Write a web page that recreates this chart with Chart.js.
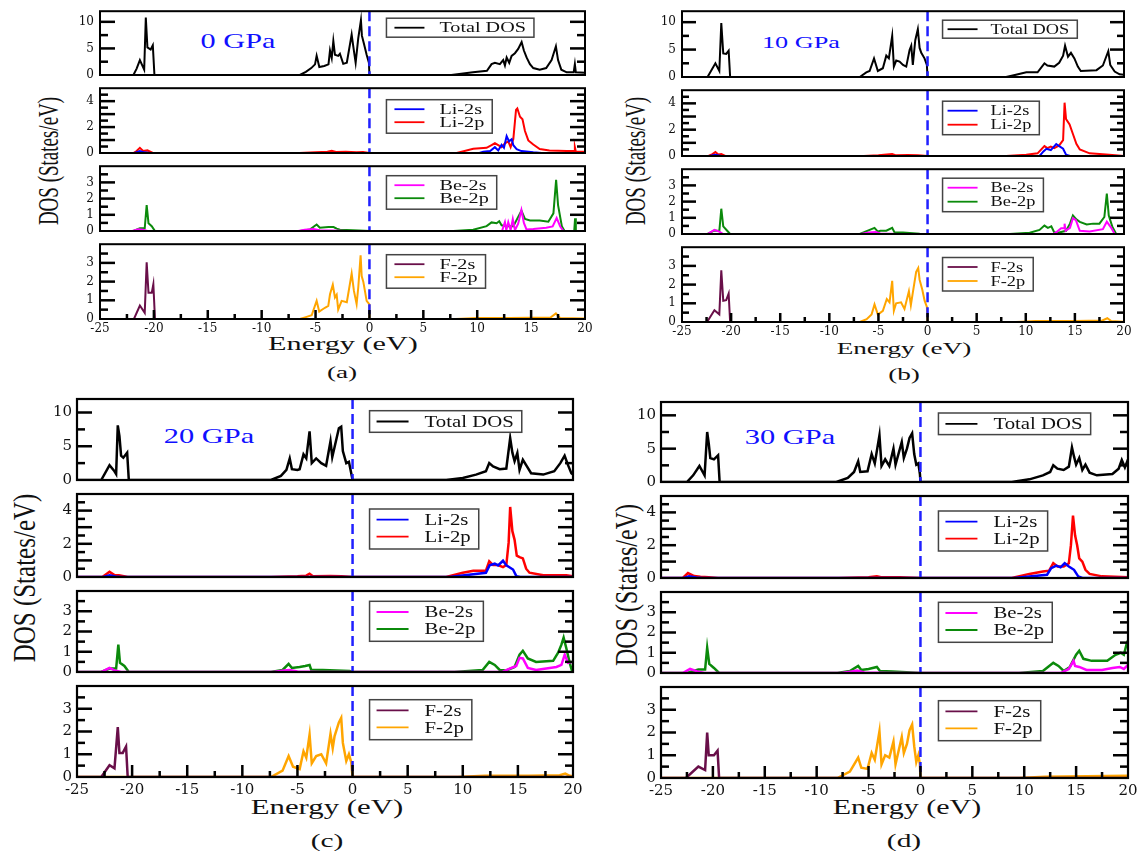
<!DOCTYPE html>
<html>
<head>
<meta charset="utf-8">
<script src="https://cdn.jsdelivr.net/npm/chart.js@4.4.0/dist/chart.umd.min.js"></script>
<style>
  body { margin: 0; background: #fff; width: 1141px; height: 852px; position: relative; overflow: hidden; }
  canvas { position: absolute; }
  .lbl { position: absolute; font-family: 'Liberation Serif', 'Times New Roman', serif; white-space: nowrap; line-height: 1; color: #111; }
</style>
</head>
<body>
<script>
// ---- axis ticks / names ----
const energyTicks = [-25, -20, -15, -10, -5, 0, 5, 10, 15, 20];
const totalTicks = [0, 5, 10];
const liTicks = [0, 1, 2, 3, 4];
const beTicks = [0, 1, 2, 3];
const fTicks = [0, 1, 2, 3];
const pressures = ['0 GPa', '10 GPa', '20 GPa', '30 GPa'];
const panelTags = ['(a)', '(b)', '(c)', '(d)'];
const seriesNames = [['Total DOS'], ['Li-2s', 'Li-2p'], ['Be-2s', 'Be-2p'], ['F-2s', 'F-2p']];
const seriesColors = [['#000000'], ['#0000ff', '#ff0000'], ['#ff00ff', '#0b8a0b'], ['#690f49', '#ffa500']];

// ---- (a) 0 GPa ----
const totA = [[-25,0],[-21.9,0],[-21.6,1.2],[-21.3,2.8],[-20.9,1.0],[-20.75,10.8],[-20.6,5.2],[-20.3,4.8],[-20.1,5.6],[-19.95,0],
  [-6.45,0],[-5.9,0.6],[-5.4,1.3],[-5.05,2.0],[-4.9,3.6],[-4.65,1.5],[-4.2,1.7],[-3.8,2.0],[-3.66,4.6],[-3.5,3.2],[-3.35,6.4],[-3.2,3.8],[-2.9,3.6],[-2.74,4.0],[-2.43,2.1],[-2.1,2.3],[-1.65,7.6],[-1.5,5.4],[-1.28,2.3],[-1.04,6.9],[-0.79,10.3],[-0.7,7.4],[-0.51,5.9],[-0.26,3.8],[-0.05,2.3],[0,0],
  [7.6,0],[9.6,0.5],[10.9,0.8],[11.33,2.05],[11.64,2.3],[12.1,2.05],[12.41,2.8],[12.57,1.8],[12.73,3.3],[12.97,2.3],[13.19,3.6],[13.5,4.1],[13.8,4.9],[14.12,6.2],[14.33,4.6],[14.58,3.3],[14.89,2.05],[15.2,1.3],[15.8,1.0],[16.4,1.3],[16.9,2.8],[17.3,5.4],[17.5,2.8],[17.8,1.0],[18.3,0.5],[18.95,0.5],[19.06,2.05],[19.15,0.5],[20,0.4]];
const li2sA = [[-25,0],[-21.8,0],[-21.3,0.15],[-20.9,0.05],[-20.3,0],[10.2,0],[10.56,0.1],[11.2,0.15],[11.64,0.45],[11.95,0.2],[12.26,0.64],[12.48,0.4],[12.73,1.3],[12.95,0.9],[13.2,1.07],[13.35,0.6],[13.66,0.3],[14.1,0.15],[15.2,0.05],[16,0],[20,0]];
const li2pA = [[-25,0],[-21.9,0],[-21.6,0.15],[-21.3,0.4],[-21.0,0.15],[-20.6,0.2],[-20.1,0],[-6.5,0],[-5,0.05],[-3.9,0.1],[-3.5,0.17],[-3.1,0.08],[-2.2,0.1],[-1.2,0.06],[-0.6,0.08],[0,0],[8.1,0],[9.63,0.32],[10.87,0.4],[11.33,0.6],[11.64,0.75],[11.95,0.6],[12.26,0.45],[12.57,0.75],[12.88,0.9],[13.1,0.45],[13.35,1.07],[13.6,3.33],[13.72,3.44],[13.97,2.8],[14.2,2.6],[14.43,1.7],[14.74,0.97],[15.2,0.65],[15.8,0.3],[16.7,0.2],[18.3,0.15],[19.0,0.15],[19.06,0.45],[19.15,0.1],[20,0.1]];
const be2sA = [[-25,0],[-22,0],[-21.45,0.1],[-21.0,0.08],[-20.6,0],[-6.6,0],[-6.0,0.08],[-5.2,0.12],[-4.6,0.05],[-3.5,0.03],[-2,0],[12.3,0],[12.57,0.55],[12.7,0.05],[12.88,0.55],[13.1,0.05],[13.3,0.74],[13.5,0.05],[13.8,0.45],[14.1,1.3],[14.33,0.5],[14.57,0.1],[15.2,0.12],[16.4,0.2],[17.0,0.28],[17.37,0.8],[17.7,0.28],[18.0,0],[20,0]];
const be2pA = [[-25,0],[-21.9,0],[-21.3,0.17],[-20.85,0.17],[-20.67,1.6],[-20.5,0.48],[-20.2,0.3],[-19.9,0],[-6.45,0],[-5.5,0.1],[-4.9,0.4],[-4.6,0.2],[-3.8,0.25],[-3.35,0.25],[-3.2,0.2],[-3.04,0.15],[-2.74,0.08],[-1,0.03],[0,0],[7.8,0],[9.63,0.08],[10.87,0.3],[11.33,0.53],[11.8,0.48],[12.04,0.6],[12.26,0.35],[12.73,0.3],[13.35,0.3],[13.97,1.09],[14.1,1.26],[14.43,0.74],[14.9,0.65],[15.8,0.65],[16.6,0.57],[17.07,1.09],[17.32,3.16],[17.5,1.6],[17.85,0.3],[18.1,0],[19.0,0],[19.08,0.78],[19.15,0],[20,0]];
const f2sA = [[-25,0],[-21.85,0],[-21.3,0.72],[-20.85,0.33],[-20.67,3.03],[-20.5,1.4],[-20.2,1.4],[-20.05,1.86],[-19.9,0],[20,0]];
const f2pA = [[-25,0],[-6.45,0],[-5.9,0.1],[-5.36,0.2],[-4.9,0.97],[-4.66,0.4],[-4.13,0.6],[-3.82,0.7],[-3.66,1.32],[-3.4,1.83],[-3.2,1.15],[-3.04,1.3],[-2.9,0.5],[-2.58,0.97],[-2.1,0.9],[-1.65,2.43],[-1.44,1.5],[-1.19,0.8],[-1.04,1.67],[-0.82,3.4],[-0.72,2.3],[-0.57,2.0],[-0.42,1.5],[-0.26,0.97],[-0.02,0.8],[0,0],[8,0],[10,0.05],[13,0.05],[16.8,0.08],[17.3,0.3],[17.7,0.05],[20,0.03]];

// ---- (b) 10 GPa ----
const totB = [[-25,0],[-22.4,0],[-21.6,2.5],[-21.2,1.1],[-21.0,9.85],[-20.8,4.3],[-20.5,4.2],[-20.25,4.8],[-20.1,0],
  [-6.9,0],[-6.24,0.85],[-5.9,1.1],[-5.45,3.4],[-5.06,1.1],[-4.55,1.6],[-4.2,3.9],[-3.94,3.4],[-3.6,7.5],[-3.43,1.9],[-3.19,3.0],[-2.85,2.8],[-2.5,2.2],[-2.17,1.9],[-1.83,4.9],[-1.66,5.7],[-1.5,2.2],[-1.25,6.7],[-0.99,8.7],[-0.81,5.3],[-0.64,4.4],[-0.31,3.4],[-0.07,2.2],[0,0],
  [8.0,0],[9.0,0.4],[10.05,0.85],[11.2,0.85],[11.9,2.5],[12.2,2.1],[12.9,1.9],[13.4,2.6],[13.8,3.9],[14.0,5.7],[14.3,3.7],[14.6,4.4],[14.95,3.4],[15.3,1.9],[15.6,1.1],[17.2,1.25],[17.85,2.1],[18.4,4.7],[18.6,2.2],[19.05,1.0],[19.55,0.5],[20,0.4]];
const li2sB = [[-25,0],[-22.2,0],[-21.6,0.1],[-21.0,0],[11.4,0],[11.8,0.35],[12.1,0.55],[12.55,0.45],[13.1,0.9],[13.4,0.75],[13.8,0.55],[14.1,0.1],[14.5,0],[20,0]];
const li2pB = [[-25,0],[-22.3,0],[-21.9,0.15],[-21.6,0.3],[-21.3,0.12],[-21.0,0.15],[-20.6,0],[-6.5,0],[-5,0.05],[-3.6,0.15],[-3.2,0.05],[-2,0.08],[-1,0.05],[0,0],[8.0,0],[10.05,0.1],[11.2,0.2],[11.9,0.75],[12.2,0.6],[12.55,0.72],[12.9,0.6],[13.4,0.8],[13.8,1.2],[13.95,4.05],[14.1,2.8],[14.46,2.4],[14.8,1.67],[15.15,0.93],[15.5,0.5],[16.5,0.2],[18.5,0.1],[20,0]];
const be2sB = [[-25,0],[-22.4,0],[-21.7,0.25],[-21.2,0.15],[-20.8,0],[-6.8,0],[-6,0.1],[-5.3,0.12],[-4.8,0.03],[-3,0],[12.8,0],[13.1,0.1],[13.6,0.35],[13.9,0.35],[13.95,0.64],[14.05,0.2],[14.5,0.38],[14.8,0.98],[15.1,0.85],[15.5,0.2],[16.5,0.15],[17.85,0.3],[18.25,0.76],[18.7,0.38],[19.05,0],[20,0]];
const be2pB = [[-25,0],[-22.4,0],[-21.7,0.22],[-21.2,0.18],[-21.0,1.56],[-20.8,0.47],[-20.4,0.2],[-20.1,0],[-6.9,0],[-5.4,0.38],[-5.06,0.15],[-4.8,0.2],[-4.2,0.2],[-3.6,0.38],[-3.36,0.1],[-2.5,0.1],[-0.8,0.02],[0,0],[8.35,0],[10.4,0.08],[11.4,0.25],[11.9,0.52],[12.25,0.38],[12.6,0.47],[12.9,0.1],[13.4,0.1],[14.1,0.2],[14.5,0.64],[14.8,1.14],[15.15,0.9],[15.5,0.75],[16.2,0.59],[16.85,0.64],[17.5,0.64],[18.0,1.05],[18.25,2.5],[18.45,1.14],[18.8,0.47],[19.2,0],[20,0]];
const f2sB = [[-25,0],[-22.45,0],[-21.7,0.63],[-21.2,0.41],[-21.0,2.77],[-20.8,1.14],[-20.5,1.17],[-20.25,1.52],[-20.1,0],[20,0]];
const f2pB = [[-25,0],[-6.9,0],[-6.2,0.15],[-5.7,0.4],[-5.4,0.94],[-5.06,0.4],[-4.55,0.6],[-4.15,1.23],[-3.87,1.05],[-3.6,2.2],[-3.43,0.6],[-3.2,1.0],[-2.7,1.05],[-2.35,0.7],[-1.9,1.65],[-1.7,0.9],[-1.5,1.57],[-1.16,2.68],[-0.95,2.89],[-0.81,2.26],[-0.54,1.74],[-0.3,1.14],[-0.07,0.8],[0,0],[9,0],[11,0.05],[15,0.05],[17.8,0.08],[18.3,0.2],[18.7,0.05],[20,0.02]];

// ---- (c) 20 GPa ----
const totC = [[-25,0],[-22.8,0],[-22.05,2.2],[-21.6,1.3],[-21.45,0.9],[-21.3,8.1],[-21.15,6.5],[-21.0,3.6],[-20.8,3.3],[-20.45,4.05],[-20.3,0],
  [-7.4,0],[-6.5,0.6],[-6.0,1.5],[-5.7,3.2],[-5.5,1.6],[-5.0,1.5],[-4.8,1.6],[-4.45,3.8],[-4.2,3.2],[-3.9,7.2],[-3.7,2.5],[-3.3,3.2],[-2.84,2.5],[-2.4,2.1],[-2.0,5.75],[-1.84,3.4],[-1.63,4.9],[-1.24,7.66],[-1.03,7.9],[-0.88,4.3],[-0.57,2.5],[-0.33,2.7],[-0.12,1.0],[0,0],
  [8.5,0],[10.0,0.3],[11.2,0.8],[12.1,1.3],[12.4,2.5],[12.75,2.0],[13.35,1.6],[13.95,1.7],[14.3,6.2],[14.5,4.05],[14.7,2.8],[14.95,4.0],[15.15,1.5],[15.45,3.0],[15.75,2.2],[16.2,1.0],[17.3,0.8],[18.3,1.3],[18.85,2.5],[19.24,3.6],[19.55,2.2],[19.85,1.0],[20,0.8]];
const li2sC = [[-25,0],[-22.6,0],[-22.05,0.1],[-21.5,0.03],[-21,0],[8.8,0],[12.1,0.25],[12.43,0.7],[12.9,0.8],[13.2,0.7],[13.65,0.98],[13.95,0.7],[14.56,0.45],[14.86,0.05],[15.2,0],[20,0]];
const li2pC = [[-25,0],[-22.7,0],[-22.05,0.31],[-21.6,0.12],[-21.2,0.1],[-20.4,0],[-7.4,0],[-5,0.05],[-4.2,0.08],[-3.9,0.2],[-3.6,0.05],[-2,0.06],[-1,0.04],[0,0],[8.5,0],[10.0,0.26],[10.95,0.38],[12.1,0.38],[12.4,0.95],[12.75,0.72],[13.2,0.72],[13.65,0.6],[13.95,0.72],[14.16,2.07],[14.3,4.22],[14.5,2.76],[14.7,2.24],[14.9,1.29],[15.15,1.2],[15.45,1.12],[15.75,0.5],[16.05,0.26],[17.3,0.1],[19.4,0.1],[20,0.05]];
const be2sC = [[-25,0],[-22.8,0],[-22.05,0.2],[-21.6,0.08],[-21.0,0],[-7.2,0],[-6.2,0.08],[-5.7,0.1],[-5.0,0.03],[-3,0],[13.6,0],[14.25,0.17],[14.85,0.3],[15.15,0.7],[15.45,0.67],[15.9,0.2],[16.65,0.1],[18.5,0.25],[18.95,0.35],[19.25,0.86],[19.55,0.45],[19.94,0.5],[20,0.5]];
const be2pC = [[-25,0],[-22.8,0],[-22.05,0.17],[-21.45,0.17],[-21.25,1.35],[-21.1,0.45],[-20.7,0.3],[-20.3,0],[-7.4,0],[-6.35,0.1],[-5.8,0.4],[-5.5,0.2],[-4.8,0.25],[-4.3,0.3],[-3.9,0.35],[-3.75,0.1],[-2.7,0.1],[-0.27,0.05],[0,0],[9.25,0],[11.8,0.1],[12.4,0.5],[12.9,0.35],[13.35,0.1],[13.95,0.08],[14.7,0.25],[15.15,0.86],[15.45,1.05],[15.9,0.67],[16.65,0.5],[18.2,0.55],[18.65,0.95],[18.95,1.35],[19.15,1.7],[19.4,1.16],[19.7,0.45],[19.94,0],[20,0]];
const f2sC = [[-25,0],[-22.8,0],[-22.05,0.52],[-21.6,0.38],[-21.3,2.19],[-21.15,1.06],[-20.85,1.06],[-20.55,1.34],[-20.4,0],[20,0]];
const f2pC = [[-25,0],[-7.4,0],[-6.35,0.28],[-5.8,0.92],[-5.4,0.45],[-4.8,0.35],[-4.45,1.13],[-4.2,0.85],[-3.9,1.86],[-3.7,0.6],[-3.3,0.92],[-2.84,1.0],[-2.4,0.6],[-2.0,1.9],[-1.8,1.27],[-1.63,1.8],[-1.24,2.4],[-1.03,2.6],[-0.88,1.5],[-0.57,0.7],[-0.33,1.0],[-0.12,0.65],[0,0],[9.5,0],[12,0.05],[16,0.05],[18.8,0.08],[19.3,0.15],[19.7,0.05],[20,0.03]];

// ---- (d) 30 GPa ----
const totD = [[-25,0],[-22.5,0],[-21.9,1.0],[-21.3,2.4],[-20.8,1.0],[-20.55,7.5],[-20.4,5.8],[-20.25,3.6],[-19.9,3.4],[-19.5,4.0],[-19.35,0],
  [-8.1,0],[-7.0,0.6],[-6.4,1.5],[-6.0,3.1],[-5.8,1.5],[-5.1,1.6],[-4.7,4.2],[-4.4,2.8],[-3.95,7.0],[-3.75,2.4],[-3.4,3.4],[-3.0,2.4],[-2.6,5.0],[-2.4,2.6],[-1.8,6.0],[-1.6,3.6],[-1.3,5.0],[-1.05,6.6],[-0.8,7.3],[-0.6,4.2],[-0.4,2.6],[-0.2,2.8],[-0.05,1.2],[0,0],
  [8.8,0],[10.5,0.4],[11.8,1.0],[12.5,1.5],[12.8,2.5],[13.2,2.0],[13.8,1.8],[14.3,2.3],[14.6,5.2],[14.8,3.8],[15.0,2.6],[15.3,3.6],[15.6,1.8],[15.9,2.6],[16.3,1.4],[17.0,1.0],[18.5,1.2],[19.1,2.0],[19.4,3.3],[19.7,2.2],[20,3.4]];
const li2sD = [[-25,0],[-22.8,0],[-22.3,0.1],[-21.6,0.03],[-21,0],[9,0],[12.2,0.2],[12.6,0.6],[13.1,0.75],[13.5,0.65],[13.9,0.9],[14.3,0.7],[14.8,0.5],[15.2,0.1],[15.6,0],[20,0]];
const li2pD = [[-25,0],[-22.9,0],[-22.4,0.3],[-21.8,0.12],[-21.2,0.08],[-20.4,0.05],[-19.5,0],[-7.9,0],[-5,0.05],[-4.2,0.1],[-3.8,0.05],[-2,0.05],[0,0],[8.8,0],[10.5,0.25],[11.8,0.4],[12.4,0.45],[12.8,0.9],[13.2,0.7],[13.8,0.7],[14.3,0.9],[14.5,2.0],[14.7,3.8],[14.9,2.6],[15.1,2.0],[15.3,1.2],[15.6,1.0],[15.9,0.5],[16.3,0.25],[17.5,0.1],[20,0.05]];
const be2sD = [[-25,0],[-22.9,0],[-22.2,0.2],[-21.5,0.08],[-20.8,0],[-7.6,0],[-6.6,0.08],[-6.1,0.12],[-5.4,0.03],[-3,0],[13.5,0],[14.3,0.2],[14.75,0.6],[14.9,0.35],[15.3,0.3],[16,0.15],[17.5,0.15],[18.5,0.25],[19.2,0.3],[19.6,0.2],[20,0.4]];
const be2pD = [[-25,0],[-22.5,0],[-21.4,0.17],[-20.75,0.17],[-20.55,1.25],[-20.35,0.45],[-19.9,0.25],[-19.4,0],[-8.0,0],[-6.8,0.1],[-6.0,0.35],[-5.7,0.15],[-5.0,0.2],[-4.2,0.3],[-3.9,0.1],[-2.7,0.08],[0,0],[9.5,0],[11.8,0.1],[12.8,0.5],[13.3,0.35],[13.8,0.1],[14.4,0.3],[15.0,0.9],[15.3,1.1],[15.7,0.7],[16.5,0.6],[18.0,0.6],[18.8,0.9],[19.3,1.0],[19.6,0.9],[19.9,1.5],[20,1.6]];
const f2sD = [[-25,0],[-22.6,0],[-21.4,0.5],[-20.75,0.35],[-20.55,2.0],[-20.4,1.0],[-19.9,1.0],[-19.55,1.2],[-19.4,0],[20,0]];
const f2pD = [[-25,0],[-8.0,0],[-6.8,0.28],[-6.0,0.9],[-5.7,0.45],[-5.1,0.4],[-4.7,1.1],[-4.4,0.8],[-3.95,2.05],[-3.75,0.6],[-3.4,1.0],[-3.0,0.9],[-2.6,1.6],[-2.4,0.6],[-1.8,1.8],[-1.6,1.1],[-1.3,1.5],[-1.05,2.1],[-0.8,2.35],[-0.6,1.4],[-0.4,0.7],[-0.2,1.0],[-0.05,0.6],[0,0],[9.5,0],[12,0.05],[16,0.08],[20,0.1]];

// ---- layout ----
const rowMax = [12, 5, 4, 4];
const rowMinor = [2.5, 0.5, 0.5, 0.5];
const rowTicks = [totalTicks, liTicks, beTicks, fTicks];

const panels = [
  { L: 100, R: 585, T: 8, B: [85, 163, 241, 319], tick: 12, ypad: 6, xpad: 3, lw: 2, frame: 2, ytMaj: 15, ytMin: 8, xtMaj: 9, xtMin: 5,
    leg: { dx: 17, dy: [7, 11.5, 9.5, 10.5], h1: 19, h2: 33.5, rows: [9.5, 22.5], font: 14, k: 1.44, l0: 8, l1: 38, tx: 53 },
    data: [[totA], [li2sA, li2pA], [be2sA, be2pA], [f2sA, f2pA]] },
  { L: 682, R: 1124, T: 8, B: [87, 166, 244, 322], tick: 12, ypad: 6, xpad: 3, lw: 2, frame: 2, ytMaj: 14, ytMin: 7, xtMaj: 9, xtMin: 5,
    leg: { dx: 15, dy: [9, 11, 9, 10.3], h1: 18, h2: 33.5, rows: [9.5, 23.5], font: 13.6, k: 1.35, l0: 5, l1: 35, tx: 48 },
    data: [[totB], [li2sB, li2pB], [be2sB, be2pB], [f2sB, f2pB]] },
  { L: 77, R: 573, T: 395, B: [490, 587, 682, 777], tick: 15, ypad: 5, xpad: 4, lw: 2.5, frame: 2.2, ytMaj: 15, ytMin: 8, xtMaj: 12, xtMin: 6,
    leg: { dx: 17, dy: [11.7, 15, 10.3, 13.7], h1: 21.6, h2: 40, rows: [10.7, 27.7], font: 16.5, k: 1.26, l0: 7, l1: 39, tx: 55 },
    data: [[totC], [li2sC, li2pC], [be2sC, be2pC], [f2sC, f2pC]] },
  { L: 661, R: 1128, T: 398, B: [492, 588, 683, 778], tick: 15, ypad: 5, xpad: 4, lw: 2.5, frame: 2.2, ytMaj: 15, ytMin: 8, xtMaj: 12, xtMin: 6,
    leg: { dx: 18, dy: [11, 15, 10.3, 13.7], h1: 21.6, h2: 40, rows: [10.7, 27.7], font: 16.5, k: 1.26, l0: 7, l1: 39, tx: 55 },
    data: [[totD], [li2sD, li2pD], [be2sD, be2pD], [f2sD, f2pD]] }
];

// text labels: [text, cx, cy, size, stretch, rotated, color]
const texts = [
  [pressures[0], 237.5, 40.5, 21, 1.44, false, '#1010ff'],
  [pressures[1], 801, 42.5, 17.5, 1.5, false, '#1010ff'],
  [pressures[2], 209, 435.5, 21, 1.45, false, '#1010ff'],
  [pressures[3], 790, 437, 21, 1.45, false, '#1010ff'],
  ['Energy (eV)', 343, 344, 18, 1.68, false],
  ['Energy (eV)', 904, 348, 17, 1.6, false],
  ['Energy (eV)', 327, 807, 20, 1.54, false],
  ['Energy (eV)', 907, 807, 20, 1.5, false],
  [panelTags[0], 342, 372, 17, 1.6, false],
  [panelTags[1], 904, 374, 17, 1.6, false],
  [panelTags[2], 327, 840, 19, 1.55, false],
  [panelTags[3], 904, 840, 19, 1.55, false],
  ['DOS (States/eV)', 47.5, 160.5, 19, 1.6, true],
  ['DOS (States/eV)', 635, 161, 19, 1.55, true],
  ['DOS (States/eV)', 24, 578, 25, 1.3, true],
  ['DOS (States/eV)', 627, 585, 24, 1.3, true]
];

texts.forEach(([t, cx, cy, size, k, rot, color]) => {
  const d = document.createElement('div');
  d.className = 'lbl';
  d.textContent = t;
  d.style.left = cx + 'px';
  d.style.top = cy + 'px';
  d.style.fontSize = size + 'px';
  if (color) d.style.color = color;
  d.style.transform = 'translate(-50%,-50%) ' + (rot ? `rotate(-90deg) scaleY(${k})` : `scaleX(${k})`);
  document.body.appendChild(d);
});

// frame, inward ticks, zero line and legend box
function drawDecor(chart, p, r) {
  const { ctx, chartArea: a } = chart;
  const x = chart.scales.x, y = chart.scales.y;
  ctx.save();

  // dashed Fermi level
  const x0 = x.getPixelForValue(0);
  ctx.strokeStyle = '#2020ff';
  ctx.lineWidth = 2.5;
  ctx.setLineDash([10, 5]);
  ctx.beginPath(); ctx.moveTo(x0, a.top); ctx.lineTo(x0, a.bottom); ctx.stroke();
  ctx.setLineDash([]);

  // frame
  ctx.strokeStyle = '#000';
  ctx.lineWidth = p.frame;
  ctx.strokeRect(a.left, a.top, a.right - a.left, a.bottom - a.top);

  // inward ticks on left/right, and on the bottom of the last row
  ctx.fillStyle = '#000';
  const step = rowMinor[r];
  const nY = Math.round(rowMax[r] / step);
  const majorEvery = Math.round((rowTicks[r][1] - rowTicks[r][0]) / step);
  for (let i = 1; i < nY; i++) {
    const py = y.getPixelForValue(i * step);
    const len = i % majorEvery === 0 ? p.ytMaj : p.ytMin;
    ctx.fillRect(a.left, py - 1.25, len, 2.5);
    ctx.fillRect(a.right - len, py - 1.25, len, 2.5);
  }
  if (r === 3) {
    for (let i = 1; i < 18; i++) {
      const px = x.getPixelForValue(-25 + i * 2.5);
      const len = i % 2 === 0 ? p.xtMaj : p.xtMin;
      ctx.fillRect(px - 1.25, a.bottom - len, 2.5, len);
    }
  }

  // legend box
  const lg = p.leg;
  const names = seriesNames[r], colors = seriesColors[r];
  ctx.font = `${lg.font}px "Liberation Serif"`;
  const tw = Math.max(...names.map(n => ctx.measureText(n).width)) * lg.k;
  const bx = x0 + lg.dx, by = a.top + lg.dy[r];
  const bh = names.length === 1 ? lg.h1 : lg.h2;
  const bw = lg.tx + tw + 8;
  ctx.fillStyle = '#fff';
  ctx.fillRect(bx, by, bw, bh);
  ctx.strokeStyle = '#444';
  ctx.lineWidth = 1.5;
  ctx.strokeRect(bx, by, bw, bh);
  names.forEach((n, i) => {
    const yy = by + (names.length === 1 ? bh / 2 : lg.rows[i]);
    ctx.strokeStyle = colors[i];
    ctx.lineWidth = 1.8;
    ctx.beginPath(); ctx.moveTo(bx + lg.l0, yy); ctx.lineTo(bx + lg.l1, yy); ctx.stroke();
    ctx.save();
    ctx.translate(bx + lg.tx, yy);
    ctx.scale(lg.k, 1);
    ctx.fillStyle = '#111';
    ctx.textBaseline = 'middle';
    ctx.fillText(n, 0, 1);
    ctx.restore();
  });
  ctx.restore();
}

function makeChart(p, r) {
  const top = r === 0 ? p.T : p.B[r - 1];
  const bottom = p.B[r];
  const last = r === 3;
  const padL = 45, padR = 14, padT = 10, padB = last ? 30 : 10;
  const w = p.R - p.L + padL + padR;
  const h = bottom - top + padT + padB;
  const cv = document.createElement('canvas');
  cv.width = w; cv.height = h;
  cv.style.left = (p.L - padL) + 'px';
  cv.style.top = (top - padT) + 'px';
  document.body.appendChild(cv);

  const tickFont = { family: 'DejaVu Serif', size: p.tick };
  new Chart(cv, {
    type: 'line',
    data: {
      datasets: p.data[r].map((d, i) => ({
        label: seriesNames[r][i],
        data: d,
        borderColor: seriesColors[r][i],
        borderWidth: p.lw,
        pointRadius: 0,
        tension: 0,
        fill: false
      }))
    },
    options: {
      responsive: false,
      animation: false,
      events: [],
      devicePixelRatio: 1,
      layout: { padding: { left: 0, right: padR, top: padT, bottom: last ? 0 : padB } },
      plugins: { legend: { display: false }, tooltip: { enabled: false } },
      scales: {
        x: {
          type: 'linear', min: -25, max: 20, display: last,
          afterBuildTicks: s => { s.ticks = energyTicks.map(v => ({ value: v })); },
          afterFit: s => { s.height = padB; },
          grid: { display: false, drawTicks: false },
          border: { display: false },
          ticks: { font: tickFont, color: '#111', padding: p.xpad, maxRotation: 0, autoSkip: false }
        },
        y: {
          type: 'linear', min: 0, max: rowMax[r],
          afterBuildTicks: s => { s.ticks = rowTicks[r].map(v => ({ value: v })); },
          afterFit: s => { s.width = padL; },
          grid: { display: false, drawTicks: false },
          border: { display: false },
          ticks: { font: tickFont, color: '#111', padding: p.ypad }
        }
      }
    },
    plugins: [{ id: 'decor', afterDatasetsDraw: chart => drawDecor(chart, p, r) }]
  });
}

panels.forEach(p => { for (let r = 0; r < 4; r++) makeChart(p, r); });
</script>
</body>
</html>
